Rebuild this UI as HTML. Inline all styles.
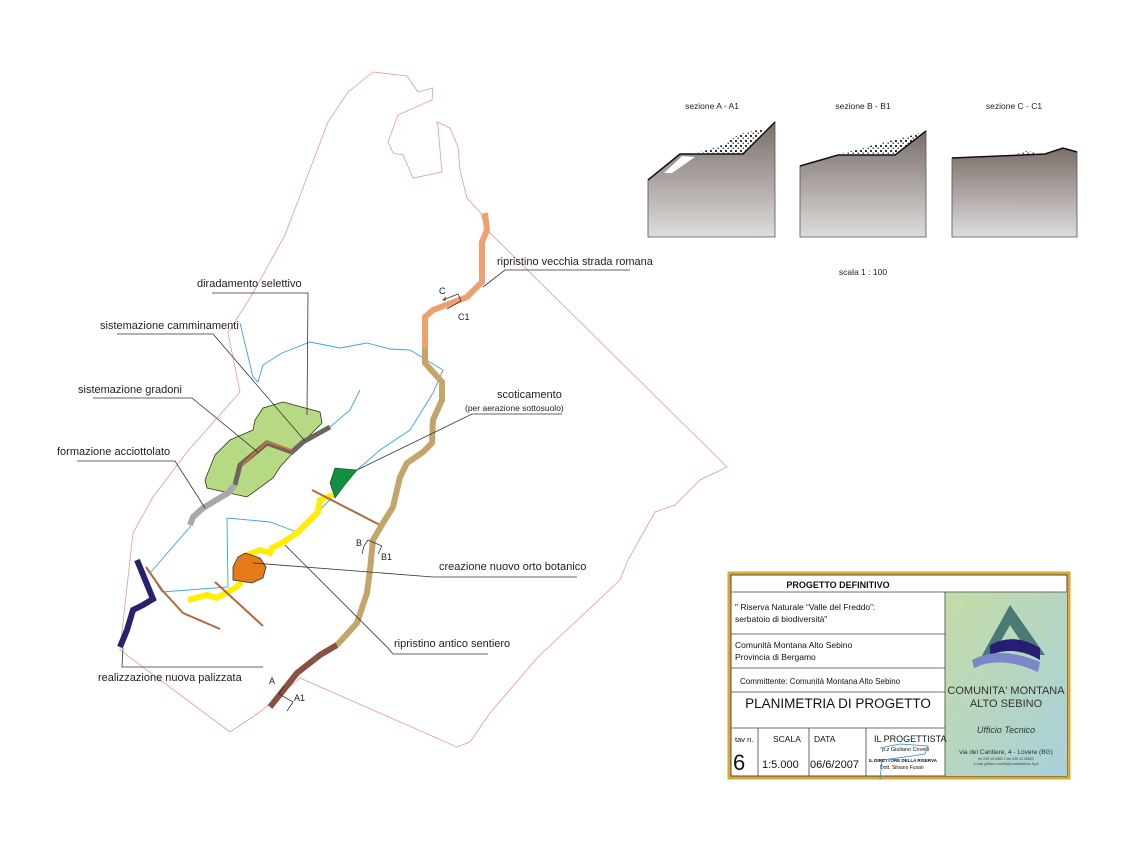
<!DOCTYPE html>
<html><head><meta charset="utf-8"><style>
html,body{margin:0;padding:0;background:#fff;}
svg{display:block;font-family:"Liberation Sans",sans-serif;}
</style></head><body>
<svg width="1134" height="850" viewBox="0 0 1134 850" xmlns="http://www.w3.org/2000/svg">
<defs>
<linearGradient id="g" x1="0" y1="0" x2="0" y2="1"><stop offset="0" stop-color="#7a6e68"/><stop offset="1" stop-color="#dedcdc"/></linearGradient>
<pattern id="h" width="5" height="5" patternUnits="userSpaceOnUse"><rect width="5" height="5" fill="#fff"/><rect width="2" height="2" fill="#333"/><rect x="2.5" y="2.5" width="1.5" height="1.5" fill="#555"/></pattern>
<linearGradient id="lg" x1="0" y1="0" x2="1" y2="1"><stop offset="0" stop-color="#c4dca6"/><stop offset="1" stop-color="#a8d0dc"/></linearGradient>
</defs>
<!-- boundary -->
<polyline fill="none" stroke="#e89a90" stroke-width="0.8" points="480,212 467,198 460,170 458,147 450,128 437,122 438,127 442,172 413,178 403,155 393,153 388,142 398,115 432,100 433,88 418,92 407,76 373,72 348,92 328,122 285,235 253,293 228,333 240,392 187,452 153,497 133,533 120,650 230,732 260,712 300,678 457,747 470,742 490,713 538,657 620,580 628,560 655,512 675,505 700,480 727,467 487,230 480,212"/>
<!-- streams -->
<g fill="none" stroke="#3aa6dc" stroke-width="0.9">
<polyline points="240,323 253,377 258,382 263,365 282,353 310,342 340,348 367,343 390,349 410,350 443,370 433,393 410,430 380,450 357,470 333,497 297,532 270,522 227,518 228,587 162,592 150,573 190,527 193,517"/>
<polyline points="360,390 350,410 330,427"/>
</g>
<!-- green area -->
<polygon fill="#b6d984" stroke="#2a3a1a" stroke-width="0.8" points="283,402 320,412 322,423 300,445 280,467 273,478 247,497 207,488 205,480 215,455 230,440 253,430 255,420 263,408"/>
<polyline fill="none" stroke="#6e6460" stroke-width="5" points="330,427 303,442 292,452 267,443 240,465 235,485"/>
<polyline fill="none" stroke="#e07a20" stroke-width="1.5" points="292,450 267,442 242,465"/>
<polyline fill="none" stroke="#a8a8a8" stroke-width="6" points="235,485 228,493 203,508 193,517 190,525"/>
<!-- yellow path -->
<polyline fill="none" stroke="#ffee00" stroke-width="6" points="333,495 320,500 318,512 310,520 297,533 282,543 272,548 270,553 260,550 247,555"/>
<polyline fill="none" stroke="#ffee00" stroke-width="6" points="242,582 235,588 217,598 207,595 188,600"/>
<polygon fill="#e47a1a" stroke="#333" stroke-width="0.8" points="245,553 260,558 266,567 263,578 252,583 233,580 233,567 238,557"/>
<polygon fill="#109040" stroke="#0a4020" stroke-width="0.6" points="335,468 357,470 347,482 335,498 330,483"/>
<!-- brown lines -->
<g fill="none" stroke="#b06a40" stroke-width="2">
<line x1="312" y1="490" x2="380" y2="525"/><line x1="215" y1="582" x2="263" y2="626"/>
<polyline points="146,567 162,590 183,613 220,629"/>
</g>
<polyline fill="none" stroke="#28226e" stroke-width="6" points="137,560 153,599 143,605 133,610 127,630 120,647"/>
<!-- roads -->
<polyline fill="none" stroke="#c4a468" stroke-width="6" points="425,348 425,363 442,382 442,400 433,420 432,443 423,452 407,463 400,477 393,507 383,523 373,540 370,570 367,593 357,623 337,645"/>
<polyline fill="none" stroke="#f0a070" stroke-width="6" points="485,213 487,230 482,242 482,282 467,297 433,310 425,317 425,348"/>
<polyline fill="none" stroke="#8a5040" stroke-width="6" points="337,645 320,655 297,673 270,707"/>
<!-- leaders -->
<g fill="none" stroke="#333" stroke-width="0.8">
<polyline points="212,293 308,293 307,415"/>
<polyline points="117,334 213,334 305,441"/>
<polyline points="93,398 192,398 259,453"/>
<polyline points="77,461 175,461 205,508"/>
<polyline points="263,667 122,667 123,648"/>
<polyline points="630,270 505,270 483,287"/>
<polyline points="562,414 472,414 357,470"/>
<polyline points="577,577 433,577 253,563"/>
<polyline points="488,654 393,654 387,647 285,545"/>
<polyline points="443,300 458,294 461,301 447,309"/><polyline points="446,300 443,300 446,297"/>
<polyline points="364,546 368,540 382,546 378,554"/><polyline points="364,546 362,554"/>
<polyline points="284,686 279,694 293,702 287,711"/>
</g>
<g font-size="11" fill="#222">
<text x="197" y="287">diradamento selettivo</text>
<text x="100" y="329">sistemazione camminamenti</text>
<text x="78" y="393">sistemazione gradoni</text>
<text x="57" y="455">formazione acciottolato</text>
<text x="98" y="681">realizzazione nuova palizzata</text>
<text x="497" y="265">ripristino vecchia strada romana</text>
<text x="497" y="398">scoticamento</text>
<text x="465" y="411" font-size="8.5">(per aerazione sottosuolo)</text>
<text x="439" y="570">creazione nuovo orto botanico</text>
<text x="394" y="647">ripristino antico sentiero</text>
<text x="439" y="294" font-size="9">C</text><text x="458" y="320" font-size="9">C1</text>
<text x="356" y="546" font-size="9">B</text><text x="381" y="560" font-size="9">B1</text>
<text x="269" y="684" font-size="9">A</text><text x="294" y="701" font-size="9">A1</text>
</g>
<!-- sections -->
<g font-size="8.5" fill="#222" text-anchor="middle">
<text x="712" y="109">sezione A - A1</text><text x="863" y="109">sezione B - B1</text><text x="1014" y="109">sezione C - C1</text>
<text x="863" y="275">scala 1 : 100</text>
</g>
<polygon fill="url(#g)" stroke="#555" stroke-width="0.8" points="648,180 680,154 743,154 775,122 775,237 648,237"/>
<polygon fill="url(#h)" points="697,153 720,146 740,134 767,128 743,154"/>
<polygon fill="#fff" points="682,156 695,157 672,173 664,173"/>
<polyline fill="none" stroke="#111" stroke-width="1.5" points="648,180 680,154 743,154 775,122"/>
<polygon fill="url(#g)" stroke="#555" stroke-width="0.8" points="800,166 838,155 895,155 926,131 926,237 800,237"/>
<polygon fill="url(#h)" points="838,155 870,146 910,136 926,131 895,155"/>
<polyline fill="none" stroke="#111" stroke-width="1.5" points="800,166 838,155 895,155 926,131"/>
<polygon fill="url(#g)" stroke="#555" stroke-width="0.8" points="952,158 1045,154 1063,148 1077,152 1077,237 952,237"/>
<polygon fill="url(#h)" points="1015,154 1028,151 1040,154"/>
<polyline fill="none" stroke="#111" stroke-width="1.5" points="952,158 1045,154 1063,148 1077,152"/>
<!-- title block -->
<rect x="729" y="573" width="340" height="205" fill="#fff" stroke="#d8a830" stroke-width="3"/>
<rect x="731" y="575" width="336" height="201" fill="none" stroke="#222" stroke-width="0.8"/>
<rect x="945" y="592" width="122" height="184" fill="url(#lg)"/>
<g stroke="#444" stroke-width="0.8" fill="none">
<line x1="731" y1="592" x2="1067" y2="592"/>
<line x1="945" y1="592" x2="945" y2="776"/>
<line x1="731" y1="634" x2="945" y2="634"/>
<line x1="731" y1="668" x2="945" y2="668"/>
<line x1="731" y1="692" x2="945" y2="692"/>
<line x1="731" y1="728" x2="945" y2="728"/>
<line x1="758" y1="728" x2="758" y2="776"/>
<line x1="809" y1="728" x2="809" y2="776"/>
<line x1="866" y1="728" x2="866" y2="776"/>
</g>
<polygon fill="#4a7a74" points="975,668 1010,605 1045,655 1030,655 1010,625 990,660"/>
<path d="M990,645 Q1015,632 1040,648 L1040,660 Q1015,645 990,655Z" fill="#261e72"/>
<path d="M972,660 Q1000,645 1040,662 L1038,672 Q1000,655 974,668Z" fill="#7c86c8"/>
<g fill="#111">
<text x="838" y="588" font-size="9" font-weight="bold" text-anchor="middle">PROGETTO DEFINITIVO</text>
<text x="735" y="610" font-size="8.5">" Riserva Naturale “Valle del Freddo”:</text>
<text x="735" y="622" font-size="8.5">serbatoio di biodiversità"</text>
<text x="735" y="648" font-size="8.5">Comunità Montana Alto Sebino</text>
<text x="735" y="660" font-size="8.5">Provincia di Bergamo</text>
<text x="740" y="684" font-size="8">Committente: Comunità Montana Alto Sebino</text>
<text x="838" y="708" font-size="13.5" text-anchor="middle">PLANIMETRIA DI PROGETTO</text>
<text x="735" y="742" font-size="7.5">tav n.</text>
<text x="733" y="770" font-size="22">6</text>
<text x="773" y="742" font-size="8.5">SCALA</text>
<text x="762" y="768" font-size="11">1:5.000</text>
<text x="814" y="742" font-size="8.5">DATA</text>
<text x="810" y="768" font-size="11">06/6/2007</text>
<text x="874" y="742" font-size="9">IL PROGETTISTA</text>
<text x="882" y="751" font-size="5.5">p.z Giuliano Covelli</text>
<text x="869" y="762" font-size="4.5" font-weight="bold">IL DIRETTORE DELLA RISERVA</text>
<text x="880" y="769" font-size="5">Dott. Silvano Fusari</text>
<text x="1006" y="694" font-size="11" text-anchor="middle" fill="#333">COMUNITA' MONTANA</text>
<text x="1006" y="707" font-size="11" text-anchor="middle" fill="#333">ALTO SEBINO</text>
<text x="1006" y="733" font-size="9" font-style="italic" text-anchor="middle" fill="#333">Ufficio Tecnico</text>
<text x="1006" y="754" font-size="6.5" text-anchor="middle" fill="#333">via del Cantiere, 4 - Lovere (BG)</text>
<text x="1006" y="760" font-size="3.5" text-anchor="middle" fill="#444">tel 035 43 4982 1 fax 035 43 49833</text>
<text x="1006" y="765" font-size="3.5" text-anchor="middle" fill="#444">e-mail giuliano.covelli@cmaltosebino.bg.it</text>
</g>
<polyline fill="none" stroke="#2a8ad8" stroke-width="0.8" points="880,748 900,744 928,746 925,754 905,757 882,760 880,780"/>
</svg>
</body></html>
